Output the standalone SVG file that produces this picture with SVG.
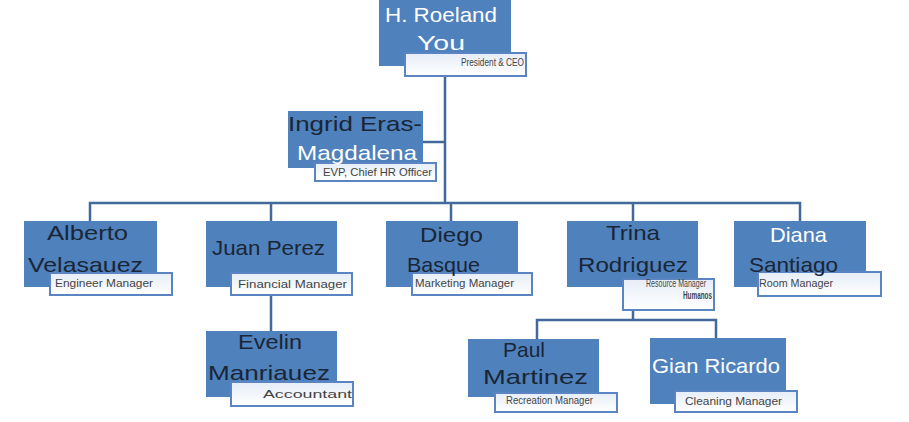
<svg xmlns="http://www.w3.org/2000/svg" width="909" height="422" viewBox="0 0 909 422">
<defs>
<linearGradient id="subg" x1="0" y1="0" x2="0" y2="1">
<stop offset="0" stop-color="#e6edf8"/>
<stop offset="1" stop-color="#ffffff"/>
</linearGradient>
<style>
.box{fill:#4f81bd;}
.sub{fill:url(#subg);stroke:#5a85c2;stroke-width:2;}
.conn{fill:none;stroke:#41699a;stroke-width:2.5;}
.nm{font-family:"Liberation Sans",Arial,sans-serif;font-size:21px;fill:#1a2636;}
.nw{font-family:"Liberation Sans",Arial,sans-serif;font-size:21px;fill:#ffffff;}
.t{font-family:"Liberation Sans",Arial,sans-serif;font-size:11px;fill:#444;}
</style>
</defs>
<rect width="909" height="422" fill="#ffffff"/>
<g id="connectors">
<path class="conn" d="M445 77 V203"/>
<path class="conn" d="M423 142 H445"/>
<path class="conn" d="M90 221 V203 H800 V221"/>
<path class="conn" d="M271 203 V221"/>
<path class="conn" d="M451 203 V221"/>
<path class="conn" d="M633 203 V221"/>
<path class="conn" d="M271 296 V331"/>
<path class="conn" d="M633 296 V320"/>
<path class="conn" d="M537 339 V320 H716 V338"/>
</g>
<g id="n-roeland">
<rect class="box" x="379" y="0" width="132" height="66"/>
<rect class="sub" x="405" y="53" width="121" height="23"/>
<text class="nw" x="385" y="22" textLength="112" lengthAdjust="spacingAndGlyphs">H. Roeland</text>
<text class="nw" x="417" y="50" font-size="24" textLength="48" lengthAdjust="spacingAndGlyphs">You</text>
<text class="t" x="461" y="66" font-size="8.5" fill="#666" textLength="63" lengthAdjust="spacingAndGlyphs">President &amp; CEO</text>
</g>
<g id="n-ingrid">
<rect class="box" x="288" y="111" width="135" height="57"/>
<rect class="sub" x="315" y="163" width="121" height="18"/>
<text class="nm" x="288" y="131" textLength="134" lengthAdjust="spacingAndGlyphs">Ingrid Eras-</text>
<text class="nw" x="297" y="160" textLength="120" lengthAdjust="spacingAndGlyphs">Magdalena</text>
<text class="t" x="323" y="176" fill="#333" textLength="109" lengthAdjust="spacingAndGlyphs">EVP, Chief HR Officer</text>
</g>
<g id="n-alberto">
<rect class="box" x="24" y="221" width="133" height="66"/>
<rect class="sub" x="50" y="273" width="122" height="22"/>
<text class="nm" x="47" y="240" textLength="81" lengthAdjust="spacingAndGlyphs">Alberto</text>
<text class="nm" x="28" y="272" textLength="115" lengthAdjust="spacingAndGlyphs">Velasauez</text>
<text class="t" x="55" y="287" textLength="98" lengthAdjust="spacingAndGlyphs">Engineer Manager</text>
</g>
<g id="n-juan">
<rect class="box" x="206" y="221" width="131" height="66"/>
<rect class="sub" x="231" y="273" width="121" height="22"/>
<text class="nm" x="212" y="255" textLength="113" lengthAdjust="spacingAndGlyphs">Juan Perez</text>
<text class="t" x="238" y="288" font-size="12" fill="#222" textLength="109" lengthAdjust="spacingAndGlyphs">Financial Manager</text>
</g>
<g id="n-diego">
<rect class="box" x="386" y="221" width="132" height="66"/>
<rect class="sub" x="412" y="273" width="120" height="22"/>
<text class="nm" x="420" y="242" textLength="63" lengthAdjust="spacingAndGlyphs">Diego</text>
<text class="nm" x="407" y="272" textLength="73" lengthAdjust="spacingAndGlyphs">Basque</text>
<text class="t" x="415" y="287" fill="#555" textLength="99" lengthAdjust="spacingAndGlyphs">Marketing Manager</text>
</g>
<g id="n-trina">
<rect class="box" x="567" y="221" width="131" height="66"/>
<rect class="sub" x="623" y="279" width="91" height="31"/>
<text class="nm" x="606" y="240" textLength="54" lengthAdjust="spacingAndGlyphs">Trina</text>
<text class="nm" x="578" y="272" textLength="110" lengthAdjust="spacingAndGlyphs">Rodriguez</text>
<text class="t" x="646" y="286.5" font-size="8" fill="#666" textLength="60" lengthAdjust="spacingAndGlyphs">Resource Manager</text>
<text class="t" x="683" y="299" font-size="6" font-weight="bold" fill="#1a2636" textLength="29" lengthAdjust="spacingAndGlyphs">Humanos</text>
</g>
<g id="n-diana">
<rect class="box" x="734" y="221" width="132" height="66"/>
<rect class="sub" x="758" y="272" width="123" height="24"/>
<text class="nw" x="770" y="242" textLength="57" lengthAdjust="spacingAndGlyphs">Diana</text>
<text class="nm" x="749" y="272" textLength="89" lengthAdjust="spacingAndGlyphs">Santiago</text>
<text class="t" x="759" y="287" fill="#222" textLength="74" lengthAdjust="spacingAndGlyphs">Room Manager</text>
</g>
<g id="n-evelin">
<rect class="box" x="206" y="331" width="131" height="66"/>
<rect class="sub" x="231" y="382" width="122" height="24"/>
<text class="nm" x="238" y="349" textLength="64" lengthAdjust="spacingAndGlyphs">Evelin</text>
<text class="nm" x="208" y="380" textLength="122" lengthAdjust="spacingAndGlyphs">Manriauez</text>
<text class="t" x="263" y="398" font-size="16" fill="#111" textLength="89" lengthAdjust="spacingAndGlyphs">Accountant</text>
</g>
<g id="n-paul">
<rect class="box" x="468" y="339" width="131" height="58"/>
<rect class="sub" x="495" y="393" width="122" height="19"/>
<text class="nm" x="503" y="357" textLength="42" lengthAdjust="spacingAndGlyphs">Paul</text>
<text class="nm" x="483" y="384" textLength="105" lengthAdjust="spacingAndGlyphs">Martinez</text>
<text class="t" x="506" y="404" font-size="10" fill="#555" textLength="87" lengthAdjust="spacingAndGlyphs">Recreation Manager</text>
</g>
<g id="n-gian">
<rect class="box" x="650" y="338" width="136" height="66"/>
<rect class="sub" x="675" y="391" width="122" height="21"/>
<text class="nw" x="652" y="373" textLength="128" lengthAdjust="spacingAndGlyphs">Gian Ricardo</text>
<text class="t" x="685" y="405" fill="#555" textLength="97" lengthAdjust="spacingAndGlyphs">Cleaning Manager</text>
</g>
</svg>
